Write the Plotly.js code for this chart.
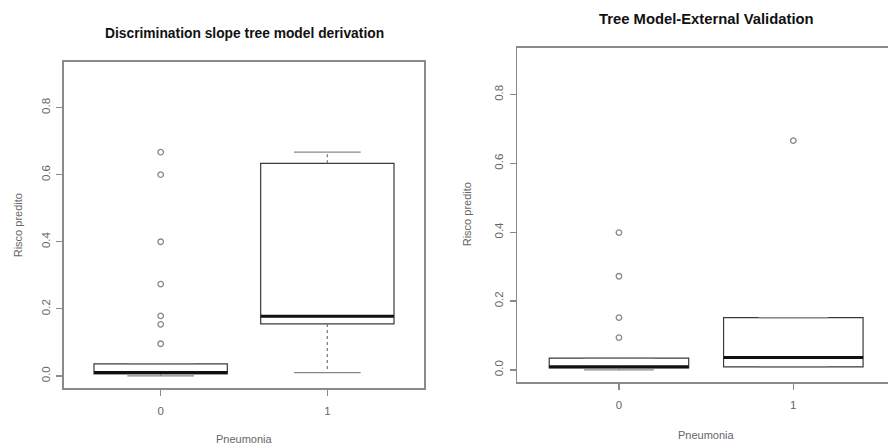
<!DOCTYPE html>
<html>
<head>
<meta charset="utf-8">
<script src="https://cdn.plot.ly/plotly-3.0.1.min.js"></script>
<style>html,body{margin:0;padding:0;background:#fff}#chart{width:888px;height:448px}</style>
</head>
<body>
<div id="chart"></div>
<script>
// ---- data ----
const groups = [0, 1];
const groupLabels = ['0', '1'];
const yTicks = [0, 0.2, 0.4, 0.6, 0.8];
const yTickLabels = ['0.0', '0.2', '0.4', '0.6', '0.8'];

// Derivation (left)
const derivQ1 = [0.006, 0.155];
const derivMedian = [0.010, 0.178];
const derivQ3 = [0.036, 0.634];
const derivLowWhisker = [0.0, 0.010];
const derivHighWhisker = [0.036, 0.667];
const derivOutliers0 = [0.667, 0.600, 0.400, 0.274, 0.179, 0.154, 0.096];
const derivOutliers1 = [];

// External validation (right)
const valQ1 = [0.006, 0.009];
const valMedian = [0.009, 0.036];
const valQ3 = [0.034, 0.152];
const valLowWhisker = [0.0, 0.009];
const valHighWhisker = [0.034, 0.152];
const valOutliers0 = [0.399, 0.272, 0.152, 0.094];
const valOutliers1 = [0.666];

// ---- style ----
const BOXW = 0.8, CAPHALF = 0.2;
const FONT = 'Liberation Sans, Arial, sans-serif';
const frameCol = '#8a8a8a', boxCol = '#3a3a3a', medCol = '#111', ptCol = '#888', txtCol = '#666';

function panel(xa, ya, q1, med, q3, lw, hw, out0, out1) {
  const tr = [];
  tr.push({type: 'box', x: groups, q1: q1, median: med, q3: q3, lowerfence: q1, upperfence: q3,
    width: BOXW, boxpoints: false, fillcolor: 'rgba(0,0,0,0)', whiskerwidth: 0,
    line: {color: boxCol, width: 1.2}, xaxis: xa, yaxis: ya, showlegend: false, hoverinfo: 'skip'});
  const mx = [], my = [];
  groups.forEach((g, i) => { mx.push(g - BOXW / 2, g + BOXW / 2, null); my.push(med[i], med[i], null); });
  tr.push({type: 'scatter', mode: 'lines', x: mx, y: my, line: {color: medCol, width: 3},
    xaxis: xa, yaxis: ya, showlegend: false, hoverinfo: 'skip'});
  const wx = [], wy = [], cx = [], cy = [];
  groups.forEach((g, i) => {
    if (hw[i] > q3[i]) { wx.push(g, g, null); wy.push(q3[i], hw[i], null); }
    if (lw[i] < q1[i]) { wx.push(g, g, null); wy.push(q1[i], lw[i], null); }
    cx.push(g - CAPHALF, g + CAPHALF, null); cy.push(hw[i], hw[i], null);
    cx.push(g - CAPHALF, g + CAPHALF, null); cy.push(lw[i], lw[i], null);
  });
  tr.push({type: 'scatter', mode: 'lines', x: wx, y: wy, line: {color: '#777', width: 1.2, dash: 'dot'},
    xaxis: xa, yaxis: ya, showlegend: false, hoverinfo: 'skip'});
  tr.push({type: 'scatter', mode: 'lines', x: cx, y: cy, line: {color: '#888', width: 1.3},
    xaxis: xa, yaxis: ya, showlegend: false, hoverinfo: 'skip'});
  const ox = out0.map(() => groups[0]).concat(out1.map(() => groups[1]));
  const oy = out0.concat(out1);
  tr.push({type: 'scatter', mode: 'markers', x: ox, y: oy,
    marker: {symbol: 'circle-open', size: 5.5, color: ptCol, line: {width: 1.3}},
    xaxis: xa, yaxis: ya, showlegend: false, hoverinfo: 'skip'});
  return tr;
}

const data = [].concat(
  panel('x', 'y', derivQ1, derivMedian, derivQ3, derivLowWhisker, derivHighWhisker, derivOutliers0, derivOutliers1),
  panel('x2', 'y2', valQ1, valMedian, valQ3, valLowWhisker, valHighWhisker, valOutliers0, valOutliers1)
);

const tickFont = {family: FONT, size: 11.5, color: txtCol};
function xAxis(domain, range, anchor, mirror) {
  return {domain: domain, range: range, anchor: anchor, tickvals: groups, ticktext: groupLabels,
    ticks: 'outside', ticklen: 6, tickcolor: frameCol, tickwidth: 1.2, showline: true, mirror: mirror,
    linecolor: frameCol, linewidth: 1.7, showgrid: false, zeroline: false, tickfont: tickFont, ticklabelstandoff: 5};
}
function yAxis(domain, anchor, mirror) {
  return {domain: domain, range: [-0.036, 0.936], anchor: anchor, tickvals: yTicks, ticktext: yTickLabels,
    tickangle: -90, ticks: 'outside', ticklen: 6, tickcolor: frameCol, tickwidth: 1.2, showline: true, mirror: mirror,
    linecolor: frameCol, linewidth: 1.7, showgrid: false, zeroline: false, tickfont: tickFont, ticklabelstandoff: 2};
}

function ann(text, xref, x, y, size, color, angle) {
  return {text: text, xref: xref, x: x, yref: 'paper', y: 1 - y / 448, xanchor: 'center', yanchor: 'middle',
    textangle: angle || 0, showarrow: false, font: {family: FONT, size: size, color: color}};
}

const layout = {
  width: 888, height: 448, margin: {l: 0, r: 0, t: 0, b: 0},
  paper_bgcolor: '#fff', plot_bgcolor: '#fff', showlegend: false,
  xaxis: xAxis([64 / 888, 424 / 888], [-0.58, 1.58], 'y', true),
  yaxis: yAxis([1 - 388 / 448, 1 - 62 / 448], 'x', true),
  xaxis2: xAxis([517.3 / 888, 1], [-0.583, 1.543], 'y2', true),
  yaxis2: yAxis([1 - 382.3 / 448, 1 - 47.7 / 448], 'x2', false),
  annotations: [
    ann('<b>Discrimination slope tree model derivation</b>', 'x', 0.5, 34, 13.8, '#111'),
    ann('<b>Tree Model-External Validation</b>', 'x2', 0.5, 18.5, 14.8, '#111'),
    ann('Pneumonia', 'x', 0.5, 439, 11, txtCol),
    ann('Pneumonia', 'x2', 0.5, 435, 11, txtCol),
    ann('Risco predito', 'paper', 18.3 / 888, 225, 11, txtCol, -90),
    ann('Risco predito', 'paper', 467.3 / 888, 214, 11, txtCol, -90)
  ]
};

Plotly.newPlot('chart', data, layout, {staticPlot: true, displayModeBar: false});
</script>
</body>
</html>
